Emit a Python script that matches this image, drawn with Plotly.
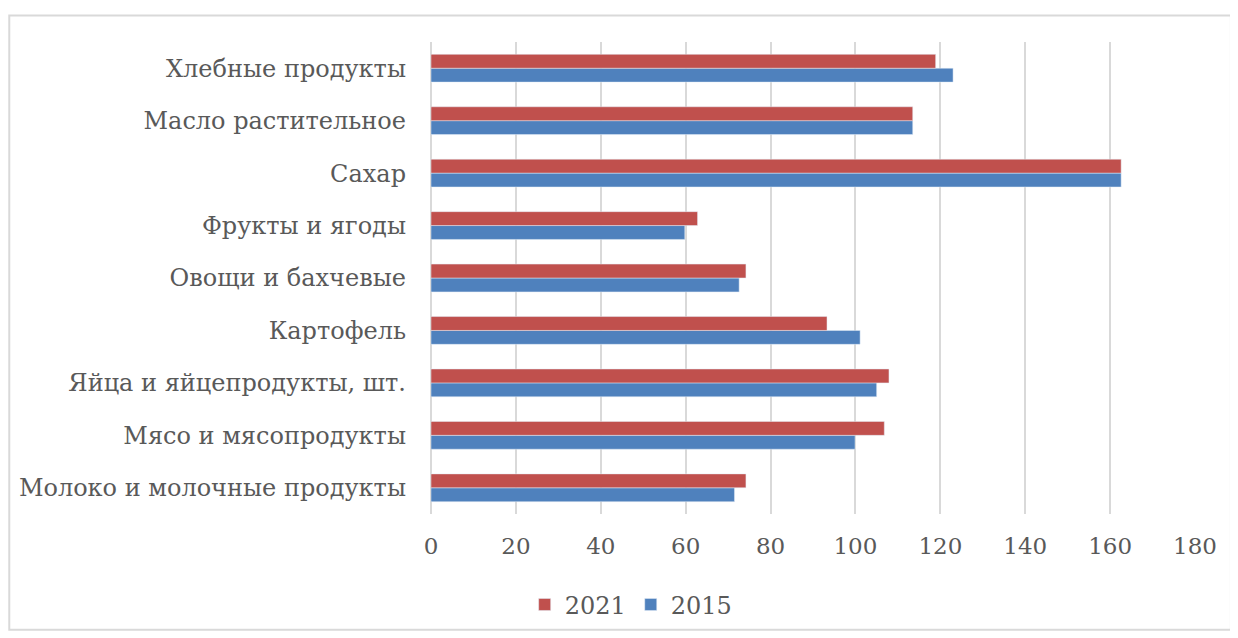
import plotly.graph_objects as go

categories = ['Молоко и молочные продукты', 'Мясо и мясопродукты', 'Яйца и яйцепродукты, шт.',
              'Картофель', 'Овощи и бахчевые', 'Фрукты и ягоды', 'Сахар',
              'Масло растительное', 'Хлебные продукты']
y2015 = [71.5, 99.9, 105.0, 101.1, 72.6, 59.8, 162.6, 113.5, 123.0]
y2021 = [74.2, 106.8, 107.9, 93.3, 74.2, 62.8, 162.6, 113.5, 118.9]
x_ticks = [0, 20, 40, 60, 80, 100, 120, 140, 160, 180]

font = dict(family='DejaVu Serif', size=24, color='#595959')

data = [go.Bar(y=categories, x=y2015, name='2015', orientation='h',
               marker=dict(color='#4F81BD')),
        go.Bar(y=categories, x=y2021, name='2021', orientation='h',
               marker=dict(color='#C0504D'))]

# page body has an 8px margin, so the figure is a bit smaller and shifted
layout = go.Layout(width=1230, height=630, font=font,
                   paper_bgcolor='white', plot_bgcolor='white',
                   margin=dict(l=423, r=43, t=34, b=123),
                   barmode='group', bargap=0.47, bargroupgap=0,
                   xaxis=dict(range=[0, 180], tickvals=x_ticks, showgrid=True,
                              gridcolor='#d9d9d9', gridwidth=1.5,
                              zeroline=True, zerolinecolor='#d9d9d9', zerolinewidth=1.5,
                              tickfont=dict(size=23),
                              ticklabelstandoff=16, fixedrange=True),
                   yaxis=dict(categoryorder='array', categoryarray=categories,
                              showgrid=False, zeroline=False, showline=False,
                              ticklabelstandoff=24, fixedrange=True),
                   legend=dict(orientation='h', traceorder='reversed',
                               x=0.262, xanchor='center', y=-0.19, yanchor='middle',
                               font=font, itemwidth=30),
                   shapes=[dict(type='rect', xref='paper', yref='paper',
                                x0=-0.552, x1=1.047, y0=-0.245, y1=1.056,
                                line=dict(color='#d9d9d9', width=2))],
                   showlegend=True)

fig = go.Figure(data=data, layout=layout)
fig.write_html('out.html')
